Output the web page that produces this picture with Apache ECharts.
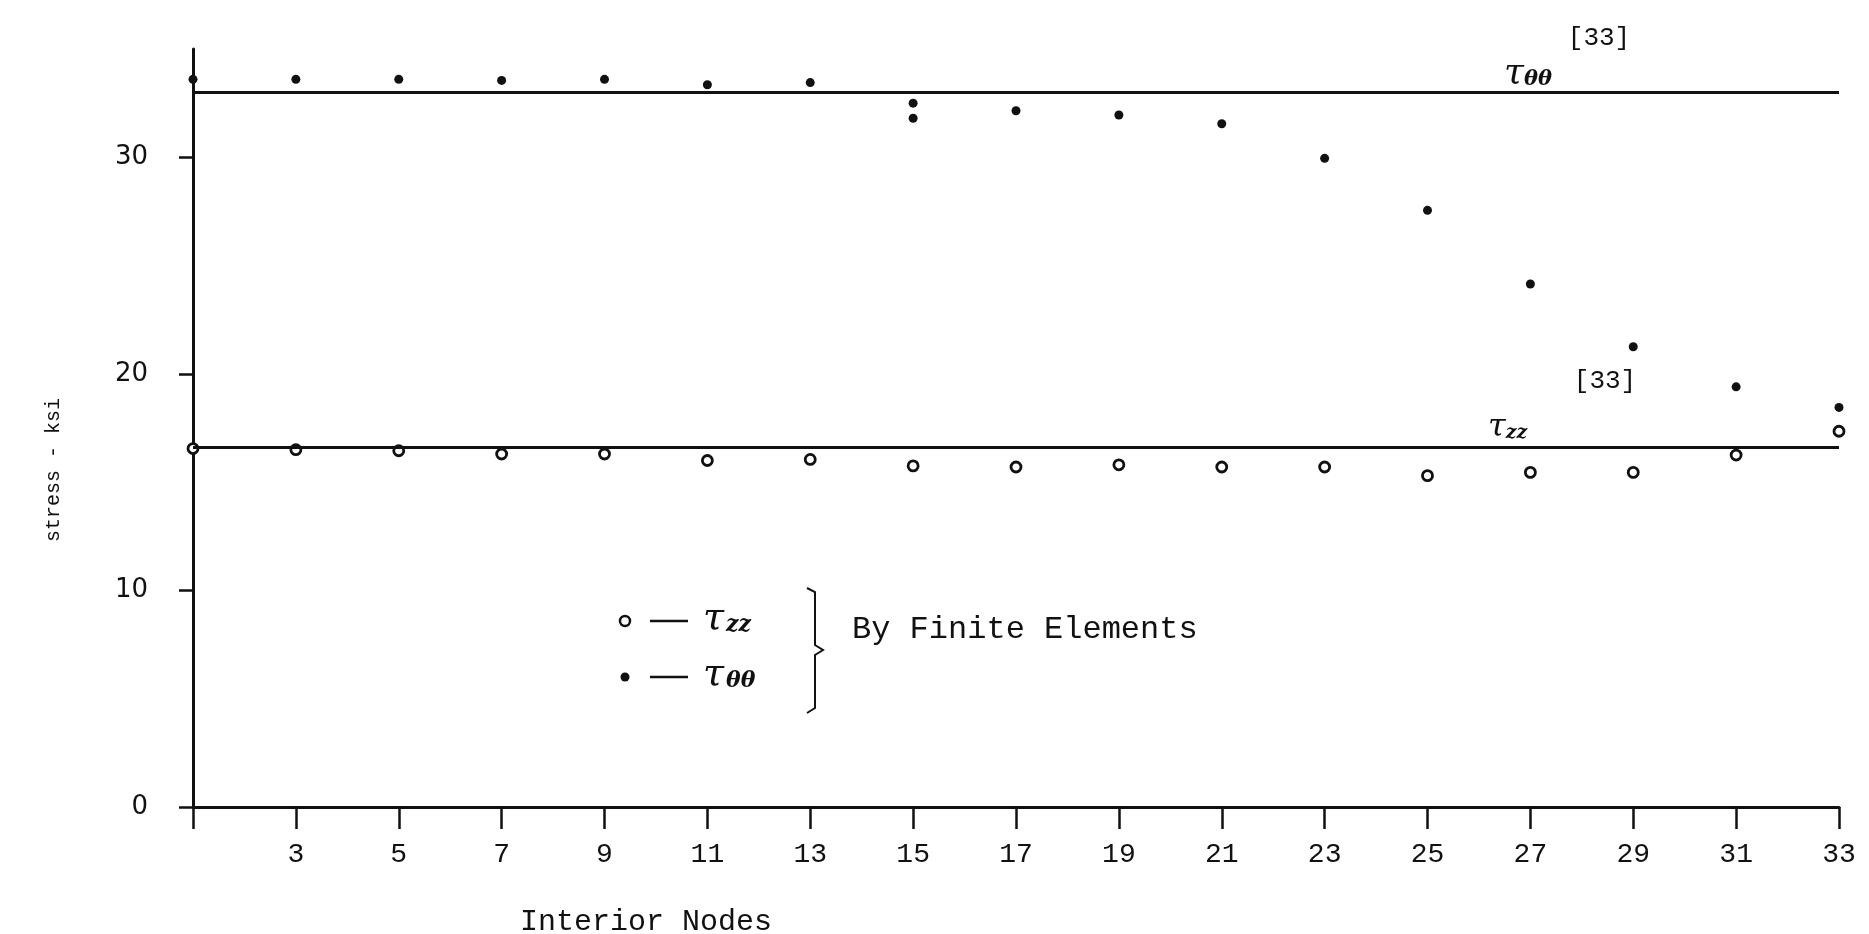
<!DOCTYPE html>
<html lang="en">
<head>
    <meta charset="UTF-8">
    <title>stress - ksi vs Interior Nodes</title>
    <style>
        body {
            margin: 0;
            overflow: hidden;
            background: #fff;
        }
    </style>
</head>
<body>
    <div id="chart" style="width:1869px;height:934px;"></div>
    <script src="https://cdn.jsdelivr.net/npm/echarts@6/dist/echarts.min.js"></script>
    <script>
        // x axis: interior nodes (odd numbers only)
        var nodes = ['1', '3', '5', '7', '9', '11', '13', '15', '17', '19', '21', '23', '25', '27', '29', '31', '33'];
        var yTicks = [0, 10, 20, 30];

        // tau theta-theta, by finite elements (node 15 has two dots)
        var thetaNodes = ['1', '3', '5', '7', '9', '11', '13', '15', '15', '17', '19', '21', '23', '25', '27', '29', '31', '33'];
        var thetaVals = [33.6, 33.6, 33.6, 33.55, 33.6, 33.35, 33.45, 32.5, 31.8, 32.15, 31.95, 31.55, 29.95, 27.55, 24.15, 21.25, 19.4, 18.45];

        // tau zz, by finite elements
        var zzNodes = ['1', '3', '5', '7', '9', '11', '13', '15', '17', '19', '21', '23', '25', '27', '29', '31', '33'];
        var zzVals = [16.55, 16.5, 16.45, 16.3, 16.3, 16.0, 16.05, 15.75, 15.7, 15.8, 15.7, 15.7, 15.3, 15.45, 15.45, 16.25, 17.35];

        // reference solution [33]
        var thetaRef = 33;
        var zzRef = 16.6;

        var ink = '#111';
        var mono = '"Liberation Mono", "Courier New", monospace';

        function pairs(ns, vs) {
            return ns.map(function (n, i) {
                return [nodes.indexOf(n), vs[i]];
            });
        }

        function refLine(v) {
            return {
                silent: true,
                symbol: ['none', 'none'],
                label: { show: false },
                lineStyle: { color: ink, width: 3, type: 'solid', opacity: 1 },
                data: [{ yAxis: v }]
            };
        }

        var myChart = echarts.init(document.getElementById('chart'));

        var option = {
            animation: false,
            backgroundColor: '#fff',
            grid: {
                left: 193,
                right: 30,
                top: 49,
                bottom: 127
            },
            xAxis: {
                type: 'category',
                data: nodes,
                boundaryGap: false,
                axisLine: { lineStyle: { color: ink, width: 3 } },
                axisTick: {
                    alignWithLabel: true,
                    inside: false,
                    length: 22,
                    lineStyle: { color: ink, width: 2.5 }
                },
                axisLabel: {
                    interval: 0,
                    margin: 34,
                    color: ink,
                    fontFamily: mono,
                    fontSize: 28,
                    formatter: function (v) {
                        return v === '1' ? '' : v;
                    }
                },
                splitLine: { show: false }
            },
            yAxis: {
                type: 'value',
                min: 0,
                max: 35,
                interval: 10,
                axisLine: { show: true, lineStyle: { color: ink, width: 3 } },
                axisTick: {
                    show: true,
                    length: 14,
                    customValues: yTicks,
                    lineStyle: { color: ink, width: 2.5 }
                },
                axisLabel: {
                    margin: 45,
                    color: ink,
                    fontFamily: '"DejaVu Sans", sans-serif',
                    fontSize: 26,
                    customValues: yTicks
                },
                splitLine: { show: false }
            },
            series: [
                {
                    name: 'tau_theta',
                    type: 'scatter',
                    symbol: 'circle',
                    symbolSize: 9,
                    itemStyle: { color: ink, opacity: 1 },
                    data: pairs(thetaNodes, thetaVals),
                    markLine: refLine(thetaRef),
                    z: 3
                },
                {
                    name: 'tau_zz',
                    type: 'scatter',
                    symbol: 'circle',
                    symbolSize: 10,
                    itemStyle: { color: '#fff', borderColor: ink, borderWidth: 2.8, opacity: 1 },
                    data: pairs(zzNodes, zzVals),
                    markLine: refLine(zzRef),
                    z: 4
                }
            ],
            graphic: [
                // y axis name
                {
                    type: 'text', x: 54, y: 470, rotation: Math.PI / 2,
                    style: { text: 'stress - ksi', font: '20px ' + mono, fill: ink, align: 'center', verticalAlign: 'middle' }
                },
                // x axis name
                {
                    type: 'text', x: 646, y: 922,
                    style: { text: 'Interior Nodes', font: '30px ' + mono, fill: ink, align: 'center', verticalAlign: 'middle' }
                },
                // reference labels
                {
                    type: 'text', x: 1599, y: 38,
                    style: { text: '[33]', font: '26px ' + mono, fill: ink, align: 'center', verticalAlign: 'middle' }
                },
                {
                    type: 'text', x: 1504, y: 74,
                    style: {
                        text: '{t|τ}{s|θθ}', fill: ink, verticalAlign: 'middle',
                        rich: {
                            t: { font: 'italic 36px "DejaVu Serif", serif', fill: ink },
                            s: { font: 'italic bold 21px "DejaVu Serif", serif', fill: ink, padding: [12, 0, 0, 0] }
                        }
                    }
                },
                {
                    type: 'text', x: 1605, y: 381,
                    style: { text: '[33]', font: '26px ' + mono, fill: ink, align: 'center', verticalAlign: 'middle' }
                },
                {
                    type: 'text', x: 1488, y: 428,
                    style: {
                        text: '{t|τ}{s|zz}', fill: ink, verticalAlign: 'middle',
                        rich: {
                            t: { font: 'italic 32px "DejaVu Serif", serif', fill: ink },
                            s: { font: 'italic bold 19px "DejaVu Serif", serif', fill: ink, padding: [10, 0, 0, 0] }
                        }
                    }
                },
                // legend
                {
                    type: 'circle', shape: { cx: 625, cy: 621, r: 5 },
                    style: { fill: '#fff', stroke: ink, lineWidth: 2.5 }
                },
                {
                    type: 'line', shape: { x1: 650, y1: 621, x2: 688, y2: 621 },
                    style: { stroke: ink, lineWidth: 2.5 }
                },
                {
                    type: 'text', x: 703, y: 619,
                    style: {
                        text: '{t|τ}{s|zz}', fill: ink, verticalAlign: 'middle',
                        rich: {
                            t: { font: 'italic 38px "DejaVu Serif", serif', fill: ink },
                            s: { font: 'italic bold 22px "DejaVu Serif", serif', fill: ink, padding: [12, 0, 0, 2] }
                        }
                    }
                },
                {
                    type: 'circle', shape: { cx: 625, cy: 677, r: 4.5 },
                    style: { fill: ink }
                },
                {
                    type: 'line', shape: { x1: 650, y1: 677, x2: 688, y2: 677 },
                    style: { stroke: ink, lineWidth: 2.5 }
                },
                {
                    type: 'text', x: 703, y: 675,
                    style: {
                        text: '{t|τ}{s|θθ}', fill: ink, verticalAlign: 'middle',
                        rich: {
                            t: { font: 'italic 38px "DejaVu Serif", serif', fill: ink },
                            s: { font: 'italic bold 22px "DejaVu Serif", serif', fill: ink, padding: [12, 0, 0, 2] }
                        }
                    }
                },
                {
                    type: 'polyline',
                    shape: { points: [[807, 588], [815, 592], [815, 645], [823, 650], [815, 655], [815, 708], [807, 713]] },
                    style: { stroke: ink, lineWidth: 2, fill: null }
                },
                {
                    type: 'text', x: 852, y: 630,
                    style: { text: 'By Finite Elements', font: '32px ' + mono, fill: ink, align: 'left', verticalAlign: 'middle' }
                }
            ]
        };

        myChart.setOption(option);
    </script>
</body>
</html>
